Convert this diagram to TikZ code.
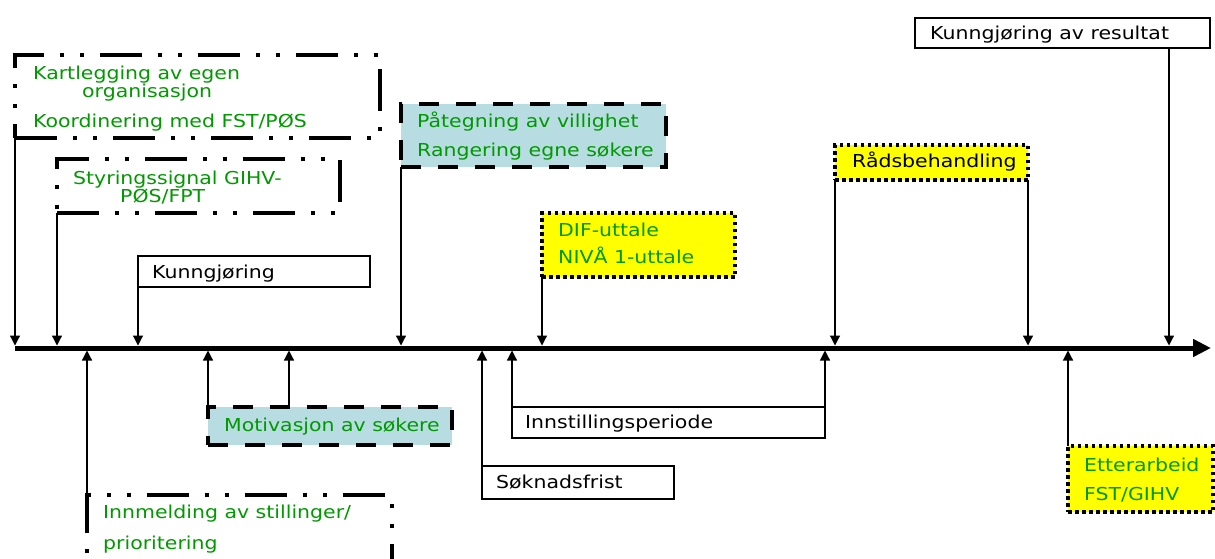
\documentclass[tikz,border=0pt]{standalone}
\usepackage{fontspec}
\setmainfont{DejaVu Sans}[FakeStretch=1.15]
\usetikzlibrary{arrows.meta}
\definecolor{lblgreen}{RGB}{0,153,0}
\definecolor{paleblue}{RGB}{183,221,227}
\definecolor{hiyellow}{RGB}{255,255,0}
\newcommand{\lbl}{\fontsize{17.8}{21}\selectfont}
\tikzset{
  boxbase/.style={inner sep=0pt, outer sep=0pt, anchor=north west},
  plainbox/.style={boxbase, draw=black, line width=1.2pt, fill=white},
  dashdotbox/.style={boxbase, draw=black, line width=4pt, line join=miter,
    dash pattern=on 42pt off 16pt on 4pt off 16pt on 4pt off 16pt},
  bluebox/.style={boxbase, draw=black, fill=paleblue, line width=4pt, line join=miter,
    dash pattern=on 20pt off 17pt},
  yellowbox/.style={boxbase, draw=black, fill=hiyellow, line width=3.5pt, line join=miter,
    dash pattern=on 3.5pt off 3.5pt},
  gtext/.style={anchor=base west, inner sep=0pt, text=lblgreen, font=\lbl},
  ktext/.style={anchor=base west, inner sep=0pt, text=black, font=\lbl},
  arr/.style={line width=1.2pt, -{Triangle[width=10pt,length=10pt]}},
  axis/.style={line width=5pt, -{Triangle[width=17pt,length=18pt]}}
}
\begin{document}
\begin{tikzpicture}[x=1pt,y=-1pt]
\useasboundingbox[fill=white] (0,0) rectangle (1215,558);

% time axis
\coordinate (axL) at (15,348);
\coordinate (axR) at (1211,348);
\coordinate (axtop) at (0,345.5);
\coordinate (axbot) at (0,350.5);
\draw[axis] (axL) -- (axR);

% boxes above the axis
\node[dashdotbox, minimum width=365pt, minimum height=83pt] (kart) at (15,55) {};
\node[dashdotbox, minimum width=283pt, minimum height=54pt] (styr) at (57,159) {};
\node[bluebox, minimum width=265pt, minimum height=63pt] (pate) at (401,104) {};
\node[yellowbox, minimum width=193pt, minimum height=64pt] (dif) at (542,213) {};
\node[yellowbox, minimum width=193pt, minimum height=35pt] (rads) at (835,145) {};
\node[plainbox, minimum width=295pt, minimum height=30pt] (res) at (915,18) {};
\node[plainbox, minimum width=232pt, minimum height=31pt] (kunn) at (138,256) {};

% boxes below the axis
\node[bluebox, minimum width=244pt, minimum height=38pt] (motiv) at (208,407) {};
\node[plainbox, minimum width=313pt, minimum height=31pt] (innst) at (512,407) {};
\node[plainbox, minimum width=192pt, minimum height=33pt] (sokn) at (482,466) {};
\node[yellowbox, minimum width=145pt, minimum height=66pt] (etter) at (1068,446) {};
\node[dashdotbox, minimum width=305pt, minimum height=80pt] (innm) at (87,495) {};

% labels
\node[gtext] (t1) at (33,79) {Kartlegging av egen};
\node[gtext] (t2) at (82,97) {organisasjon};
\node[gtext] (t3) at (33,127) {Koordinering med FST/PØS};
\node[gtext] (t4) at (73,184) {Styringssignal GIHV-};
\node[gtext] (t5) at (120,202) {PØS/FPT};
\node[gtext] (t6) at (417,127) {Påtegning av villighet};
\node[gtext] (t7) at (417,156) {Rangering egne søkere};
\node[gtext] (t8) at (558,236) {DIF-uttale};
\node[gtext] (t9) at (558,263) {NIVÅ 1-uttale};
\node[ktext] (t10) at (852,167) {Rådsbehandling};
\node[ktext] (t11) at (930,39) {Kunngjøring av resultat};
\node[ktext] (t12) at (152,278) {Kunngjøring};
\node[gtext] (t13) at (224,431) {Motivasjon av søkere};
\node[ktext] (t14) at (525,428) {Innstillingsperiode};
\node[ktext] (t15) at (496,488) {Søknadsfrist};
\node[gtext] (t16) at (1084,471) {Etterarbeid};
\node[gtext] (t17) at (1084,500) {FST/GIHV};
\node[gtext] (t18) at (103,518) {Innmelding av stillinger/};
\node[gtext] (t19) at (103,549) {prioritering};

% connectors down to the axis
\draw[arr] (kart.south west) -- (kart.south west |- axtop);
\draw[arr] (styr.south west) -- (styr.south west |- axtop);
\draw[arr] (kunn.south west) -- (kunn.south west |- axtop);
\draw[arr] (pate.south west) -- (pate.south west |- axtop);
\draw[arr] (dif.south west) -- (dif.south west |- axtop);
\draw[arr] (rads.south west) -- (rads.south west |- axtop);
\draw[arr] (rads.south east) -- (rads.south east |- axtop);
\draw[arr] ([xshift=-41pt]res.south east) -- ([xshift=-41pt]res.south east |- axtop);

% connectors up to the axis
\draw[arr] (innm.north west) -- (innm.north west |- axbot);
\draw[arr] (motiv.north west) -- (motiv.north west |- axbot);
\draw[arr] ([xshift=81pt]motiv.north west) -- ([xshift=81pt]motiv.north west |- axbot);
\draw[arr] (sokn.north west) -- (sokn.north west |- axbot);
\draw[arr] (innst.north west) -- (innst.north west |- axbot);
\draw[arr] (innst.north east) -- (innst.north east |- axbot);
\draw[arr] (etter.north west) -- (etter.north west |- axbot);
\end{tikzpicture}
\end{document}
